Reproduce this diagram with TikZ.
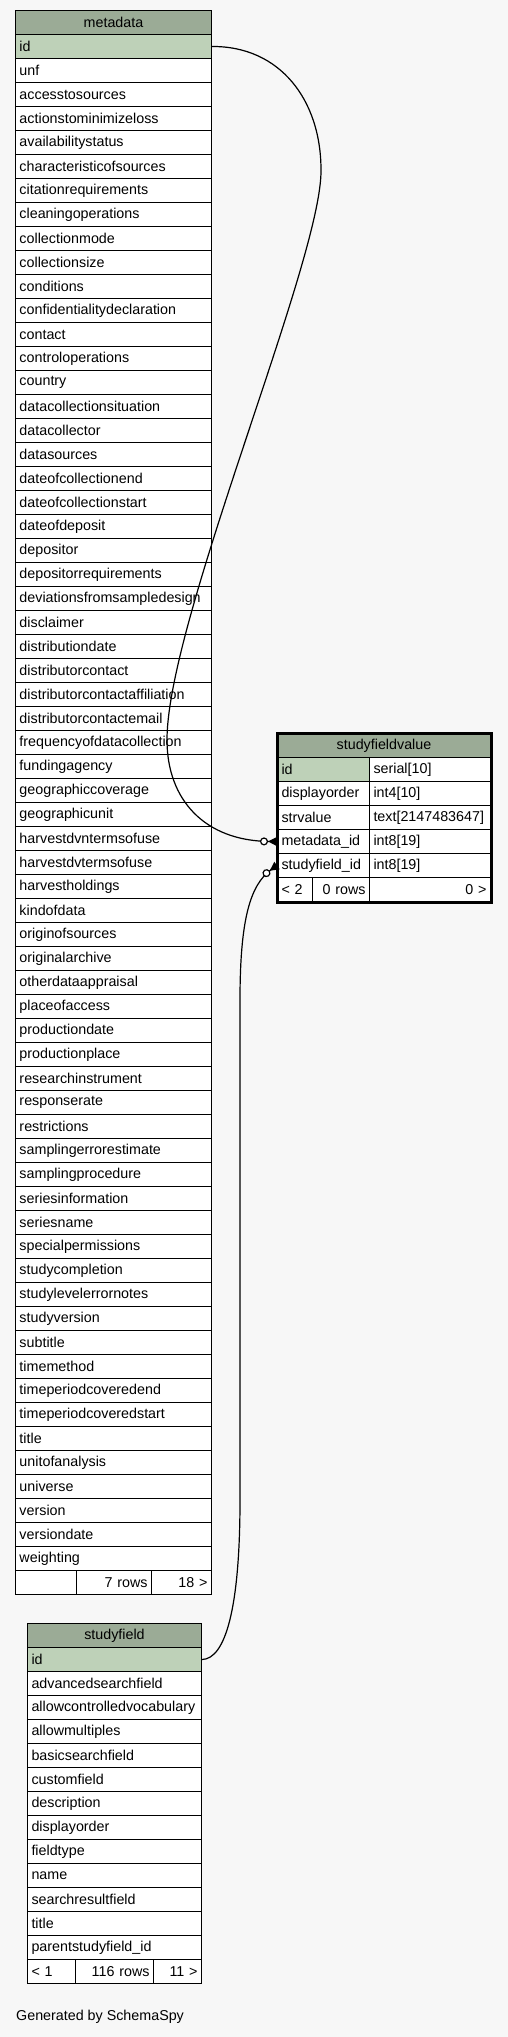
\documentclass[tikz,border=0pt]{standalone}
\usepackage{fontspec}
\setmainfont{Liberation Sans}
\usetikzlibrary{arrows.meta}
\hyphenpenalty=10000
\exhyphenpenalty=10000
\definecolor{bggray}{HTML}{F7F7F7}
\definecolor{hdrgreen}{HTML}{9BAB96}
\definecolor{pkgreen}{HTML}{BED1B8}
\newcommand\tabfont{\fontsize{14.3}{16}\selectfont}
\tikzset{
  cell/.style={draw=black, line width=1pt, anchor=north west, minimum height=24pt,
    inner xsep=4pt, inner ysep=0pt, text width=#1, font=\tabfont},
  row/.style={cell=#1, fill=white, align=left},
  pk/.style={cell=#1, fill=pkgreen, align=left},
  hdr/.style={cell=#1, fill=hdrgreen, align=center},
  num/.style={cell=#1, fill=white, align=right},
  fk/.style={line width=1.2pt, -{Circle[fill=white, length=8pt, width=8pt] Triangle[reversed, length=9pt, width=9pt]}}
}
\begin{document}
\begin{tikzpicture}[x=1pt, y=-1pt]
\fill[bggray] (0,0) rectangle (508,2037);
\useasboundingbox (0,0) rectangle (508,2037);
% metadata
\node[hdr=188pt] (md) at (15,10) {metadata};
\node[pk=188pt] (md1) at (15,34) {id};
\foreach \f [count=\i from 2] in {unf,accesstosources,actionstominimizeloss,availabilitystatus,
  characteristicofsources,citationrequirements,cleaningoperations,collectionmode,collectionsize,
  conditions,confidentialitydeclaration,contact,controloperations,country,datacollectionsituation,
  datacollector,datasources,dateofcollectionend,dateofcollectionstart,dateofdeposit,depositor,
  depositorrequirements,deviationsfromsampledesign,disclaimer,distributiondate,distributorcontact,
  distributorcontactaffiliation,distributorcontactemail,frequencyofdatacollection,fundingagency,
  geographiccoverage,geographicunit,harvestdvntermsofuse,harvestdvtermsofuse,harvestholdings,
  kindofdata,originofsources,originalarchive,otherdataappraisal,placeofaccess,productiondate,
  productionplace,researchinstrument,responserate,restrictions,samplingerrorestimate,
  samplingprocedure,seriesinformation,seriesname,specialpermissions,studycompletion,
  studylevelerrornotes,studyversion,subtitle,timemethod,timeperiodcoveredend,
  timeperiodcoveredstart,title,unitofanalysis,universe,version,versiondate,weighting}
  \node[row=188pt] (md\i) at (15,{10+24*\i}) {\f};
\node[row=53pt] (mdf1) at (15,1570) {};
\node[num=67pt] (mdf2) at (76,1570) {7 rows};
\node[num=52pt] (mdf3) at (151,1570) {18 >};
% studyfieldvalue
\node[hdr=205pt] (sfv) at (277,733) {studyfieldvalue};
\node[pk=84pt] (sfv1) at (277,757) {id};
\node[row=113pt] (sft1) at (369,757) {serial[10]};
\node[row=84pt] (sfv2) at (277,781) {displayorder};
\node[row=113pt] (sft2) at (369,781) {int4[10]};
\node[row=84pt] (sfv3) at (277,805) {strvalue};
\node[row=113pt] (sft3) at (369,805) {text[2147483647]};
\node[row=84pt] (sfv4) at (277,829) {metadata\_id};
\node[row=113pt] (sft4) at (369,829) {int8[19]};
\node[row=84pt] (sfv5) at (277,853) {studyfield\_id};
\node[row=113pt] (sft5) at (369,853) {int8[19]};
\node[row=27pt] (sfvf1) at (277,877) {< 2};
\node[num=49pt] (sfvf2) at (312,877) {0 rows};
\node[num=113pt] (sfvf3) at (369,877) {0 >};
\draw[line width=3pt] (sfv.north west) rectangle (sfvf3.south east);
% studyfield
\node[hdr=166pt] (sf) at (27,1623) {studyfield};
\node[pk=166pt] (sf1) at (27,1647) {id};
\foreach \f [count=\i from 2] in {advancedsearchfield,allowcontrolledvocabulary,allowmultiples,
  basicsearchfield,customfield,description,displayorder,fieldtype,name,searchresultfield,title,
  parentstudyfield\_id}
  \node[row=166pt] (sf\i) at (27,{1623+24*\i}) {\f};
\node[row=40pt] (sff1) at (27,1959) {< 1};
\node[num=70pt] (sff2) at (75,1959) {116 rows};
\node[num=40pt] (sff3) at (153,1959) {11 >};
% connectors
\draw[fk] (md1.east) .. controls (280,46) and (321,100) .. (321,170)
  .. controls (322,260) and (167,620) .. (167,740)
  .. controls (167,800) and (205,841) .. (sfv4.west);
\draw[fk] (sf1.east) .. controls (225,1659) and (240,1610) .. (240,1500) -- (240,1000)
  .. controls (240,920) and (250,885) .. (sfv5.west);
\node[anchor=west, inner sep=0pt, font=\tabfont] (gen) at (16,2017) {Generated by SchemaSpy};
\end{tikzpicture}
\end{document}
